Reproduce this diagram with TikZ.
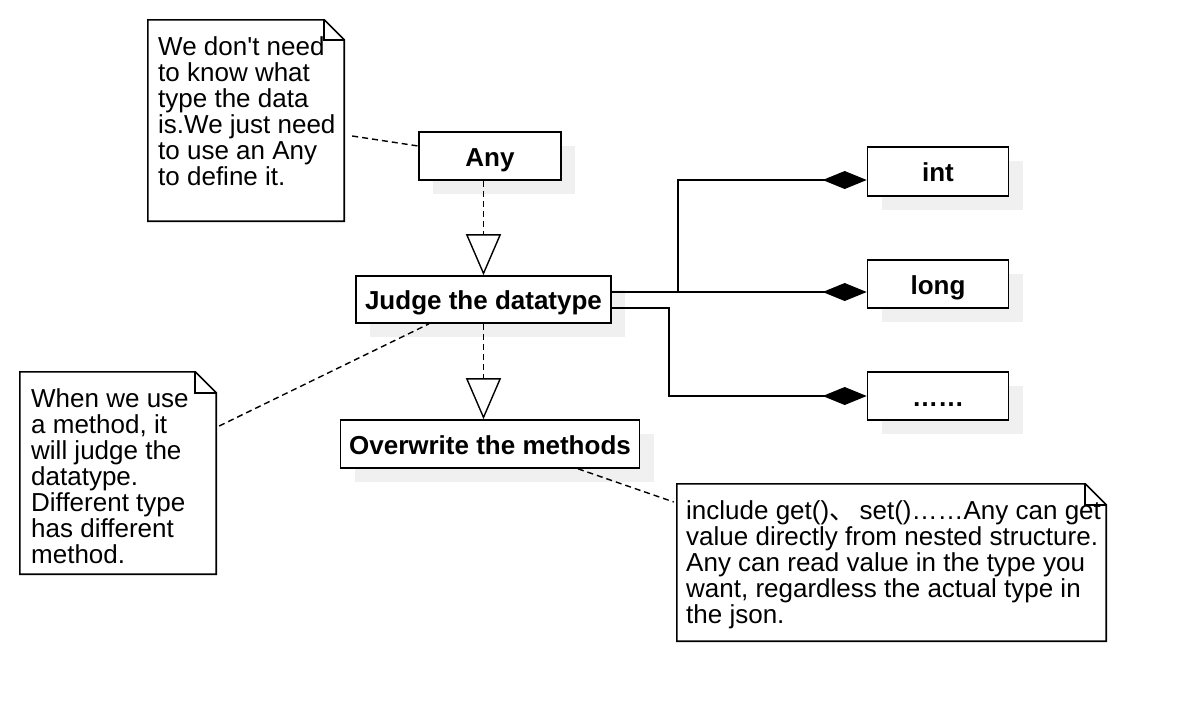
\documentclass[tikz,border=0pt]{standalone}
\usepackage{fontspec}
\setmainfont{Liberation Sans}
\newfontfamily\cjk{Noto Sans CJK SC}
\newcommand\sqapos{\XeTeXglyph\XeTeXcharglyph"27\relax}
\usetikzlibrary{arrows.meta,shadows}
\begin{document}
\begin{tikzpicture}[x=1pt,y=-1pt,
  cls/.style={draw, line width=1.6pt, fill=white, inner sep=0pt,
    font=\fontsize{26}{26}\selectfont\bfseries, text height=20.6pt, text depth=0pt,
    drop shadow={shadow xshift=14pt, shadow yshift=-14pt, fill=black!6, opacity=1}},
  notebg/.style={draw=none, inner sep=0pt},
  nline/.style={line width=1.6pt},
  ntext/.style={font=\fontsize{26}{26}\selectfont, align=left, inner sep=0pt, anchor=north west},
  dep/.style={line width=1.4pt, dash pattern=on 6pt off 4pt},
  real/.style={dep, -{Triangle[open, length=41pt, width=35pt, fill=white]}},
  comp/.style={line width=1.6pt, -{Diamond[length=44pt, width=18pt]}},
]
\useasboundingbox[fill=white] (0,0) rectangle (1188,724);

% class boxes
\node[cls, minimum width=142pt, minimum height=48pt] (any) at (490,156) {Any};
\node[cls, minimum width=255pt, minimum height=47pt] (judge) at (483.5,299.5) {Judge the datatype};
\node[cls, minimum width=299pt, minimum height=48pt] (over) at (490,444) {Overwrite the methods};
\node[cls, minimum width=141pt, minimum height=49pt] (int) at (938,171.5) {int};
\node[cls, minimum width=141pt, minimum height=48pt] (long) at (938,284) {long};
\node[cls, minimum width=141pt, minimum height=48pt] (etc) at (938,396) {……};

% notes
\node[notebg, minimum width=196pt, minimum height=201pt] (n1) at (246,120.5) {};
\node[notebg, minimum width=196pt, minimum height=202pt] (n2) at (118,473) {};
\node[notebg, minimum width=429pt, minimum height=157pt] (n3) at (891.5,562.5) {};
\foreach \n/\f in {n1/20,n2/21,n3/21}{
  \draw[nline, fill=white] (\n.north west) -- ([xshift=-\f pt]\n.north east)
     -- ([yshift=-\f pt]\n.north east) -- (\n.south east) -- (\n.south west) -- cycle;
  \draw[nline] ([xshift=-\f pt]\n.north east) |- ([yshift=-\f pt]\n.north east);
}
\node[ntext] (n1t) at (158,36) {We don\sqapos t need\\to know what\\type the data\\is.We just need\\to use an Any\\to define it.};
\node[ntext] (n2t) at (31,388) {When we use\\a method, it\\will judge the\\datatype.\\Different type\\has different\\method.};
\node[ntext] (n3t) at (686,500) {include get(){\cjk 、}\,set()……Any can get\\value directly from nested structure.\\Any can read value in the type you\\want, regardless the actual type in\\the json.};

% realizations
\draw[real] (any.south -| judge.north) -- (judge.north);
\draw[real] (judge.south) -- (judge.south |- over.north);

% compositions
\coordinate (j1) at ([yshift=7.5pt]judge.east);
\coordinate (j2) at ([yshift=-8.5pt]judge.east);
\coordinate (i1) at ([yshift=-8.5pt]int.west);
\coordinate (l1) at ([yshift=-8pt]long.west);
\coordinate (e1) at (etc.west);
\draw[comp] (j1) -- ++(66,0) |- (i1);
\draw[comp] (j1) -- (l1);
\draw[comp] (j2) -- ++(57,0) |- (e1);

% note anchors
\draw[dep] ([xshift=8pt,yshift=-15.5pt]n1.east) -- ([yshift=10pt]any.west);
\draw[dep] ([xshift=3pt,yshift=47pt]n2.east) -- ([xshift=-54.5pt]judge.south);
\draw[dep] ([xshift=88pt]over.south) -- ([xshift=-3pt,yshift=60.5pt]n3.west);
\end{tikzpicture}
\end{document}
